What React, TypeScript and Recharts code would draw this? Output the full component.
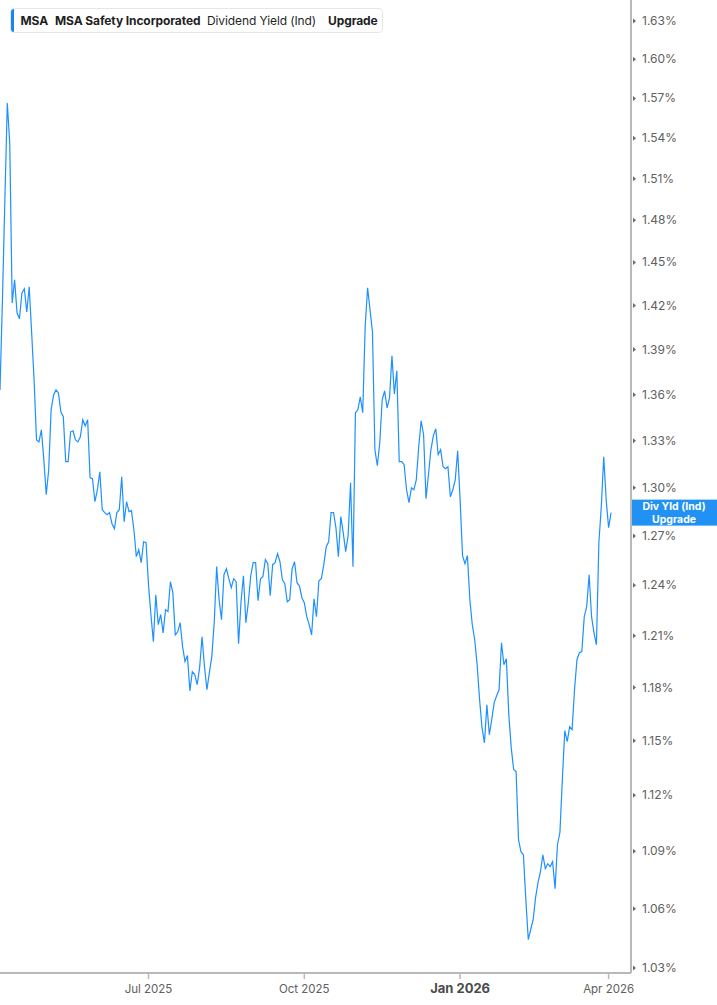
import React from 'react';
import { LineChart, Line, XAxis, YAxis, ReferenceLine } from 'recharts';

// Dividend yield (%) per trading day, Apr 2025 - Apr 2026
const yieldValues: number[] = [
  1.3631, 1.4239, 1.4946, 1.5665, 1.5365, 1.4218, 1.4378, 1.415, 1.4109, 1.4288,
  1.4316, 1.4156, 1.433, 1.4014, 1.3698, 1.3305, 1.3292, 1.337, 1.3178, 1.2956,
  1.3114, 1.35, 1.3598, 1.3631, 1.3611, 1.3487, 1.3455, 1.3165, 1.3165, 1.3357,
  1.3364, 1.3305, 1.3292, 1.3325, 1.3435, 1.3396, 1.3435, 1.3063, 1.3057, 1.2912,
  1.2987, 1.3101, 1.2862, 1.2844, 1.2831, 1.2844, 1.2775, 1.2744, 1.2844, 1.2862,
  1.3069, 1.2788, 1.2912, 1.285, 1.2856, 1.2738, 1.2573, 1.2615, 1.2536, 1.2664,
  1.2658, 1.2402, 1.2224, 1.2065, 1.2343, 1.2165, 1.2224, 1.2117, 1.2254, 1.2242,
  1.2421, 1.2355, 1.2105, 1.2123, 1.2177, 1.2036, 1.1949, 1.1984, 1.1781, 1.1891,
  1.1874, 1.1816, 1.1914, 1.2094, 1.192, 1.1787, 1.1885, 1.1978, 1.2177, 1.2512,
  1.2313, 1.2194, 1.2463, 1.25, 1.2439, 1.2385, 1.2439, 1.2421, 1.2053, 1.2301,
  1.2457, 1.2177, 1.2295, 1.2457, 1.2536, 1.2536, 1.2307, 1.2439, 1.2451, 1.2555,
  1.253, 1.2337, 1.2524, 1.2536, 1.2591, 1.2542, 1.2433, 1.2409, 1.2301, 1.2313,
  1.25, 1.2542, 1.2415, 1.2396, 1.2325, 1.2295, 1.2212, 1.2165, 1.2105, 1.2319,
  1.2212, 1.2427, 1.2439, 1.2524, 1.2634, 1.2664, 1.2844, 1.2844, 1.275, 1.2573,
  1.2819, 1.2719, 1.2603, 1.2701, 1.3031, 1.2512, 1.3481, 1.35, 1.3585, 1.3481,
  1.4054, 1.4323, 1.417, 1.402, 1.3241, 1.3139, 1.3286, 1.3566, 1.3625, 1.3513,
  1.3579, 1.3858, 1.3605, 1.3758, 1.3165, 1.3165, 1.3146, 1.2987, 1.2906, 1.2999,
  1.2987, 1.305, 1.3261, 1.3429, 1.3338, 1.2931, 1.3082, 1.3241, 1.3331, 1.3377,
  1.321, 1.3241, 1.3133, 1.312, 1.3133, 1.2943, 1.2987, 1.305, 1.3235, 1.2925,
  1.2579, 1.253, 1.2579, 1.2313, 1.2165, 1.2076, 1.1931, 1.1731, 1.1573, 1.1488,
  1.1702, 1.1533, 1.1618, 1.1714, 1.1753, 1.1787, 1.2059, 1.1931, 1.1966, 1.1646,
  1.1461, 1.134, 1.1329, 1.0961, 1.0897, 1.0881, 1.0647, 1.0443, 1.0494, 1.0544,
  1.0657, 1.0735, 1.0793, 1.0881, 1.0808, 1.0834, 1.0819, 1.0845, 1.0704, 1.0934,
  1.0999, 1.1285, 1.1556, 1.1494, 1.1578, 1.1561, 1.1787, 1.196, 1.2001, 1.2007,
  1.2212, 1.2272, 1.2463, 1.2212, 1.2117, 1.2047, 1.2658, 1.2881, 1.3197, 1.2925,
  1.275, 1.2844,
];

// x tick positions (trading-day index) and their labels
const xTickIndex: number[] = [61, 125, 189, 250];
const xTickLabels: string[] = ['Jul 2025', 'Oct 2025', 'Jan 2026', 'Apr 2026'];
const xBoldLabel = 'Jan 2026';

const yTicks: number[] = [
  1.03, 1.06, 1.09, 1.12, 1.15, 1.18, 1.21, 1.24, 1.27, 1.3, 1.33, 1.36, 1.39,
  1.42, 1.45, 1.48, 1.51, 1.54, 1.57, 1.6, 1.63,
];
const yDomain: [number, number] = [1.0275, 1.6467];
const xDomain: [number, number] = [0, 259.2];

const legendParts = {
  ticker: 'MSA',
  name: 'MSA Safety Incorporated',
  metric: 'Dividend Yield (Ind)',
  action: 'Upgrade',
};
const badgeLines: string[] = ['Div Yld (Ind)', 'Upgrade'];

const data = yieldValues.map((v, i) => ({ i, v }));
const lastValue = yieldValues[yieldValues.length - 1];

const FONT = 'Inter, "Noto Sans", Roboto, sans-serif';
const BLUE = '#1e90ff';
const AXIS = '#b9b9b9';
const TICK_TEXT = '#606060';

const XTick = (props: any) => {
  const { x, y, payload } = props;
  const idx = xTickIndex.indexOf(payload.value);
  const label = idx >= 0 ? xTickLabels[idx] : '';
  const bold = label === xBoldLabel;
  return (
    <text
      x={x}
      y={y + 12}
      textAnchor="middle"
      fontFamily={FONT}
      fontSize={bold ? 13 : 11.5}
      fontWeight={bold ? 700 : 400}
      fill={bold ? '#4a4a4a' : TICK_TEXT}
    >
      {label}
    </text>
  );
};

const YTick = (props: any) => {
  const { x, y, payload } = props;
  return (
    <g>
      <path d={`M${x + 2},${y - 2.5} L${x + 5},${y} L${x + 2},${y + 2.5} Z`} fill="#6a6a6a" />
      <text
        x={x + 11}
        y={y}
        dy={4}
        textAnchor="start"
        fontFamily={FONT}
        fontSize={12}
        fill={TICK_TEXT}
      >
        {payload.value.toFixed(2)}%
      </text>
    </g>
  );
};

const Badge = (props: any) => {
  const vb = props.viewBox || {};
  const left = (vb.x || 0) + (vb.width || 0);
  const cy = vb.y || 0;
  return (
    <g>
      <rect x={left} y={cy - 13} width={86} height={26} fill="#2191f3" />
      <text
        x={left + 43}
        y={cy - 6.5}
        dy={3.8}
        textAnchor="middle"
        fontFamily={FONT}
        fontSize={10.5}
        fontWeight={700}
        fill="#ffffff"
      >
        {badgeLines[0]}
      </text>
      <text
        x={left + 43}
        y={cy + 6.5}
        dy={3.8}
        textAnchor="middle"
        fontFamily={FONT}
        fontSize={10.5}
        fontWeight={700}
        fill="#ffffff"
      >
        {badgeLines[1]}
      </text>
    </g>
  );
};

const legendText: React.CSSProperties = {
  position: 'absolute',
  top: -1,
  lineHeight: '25px',
  fontSize: 12,
  letterSpacing: '-0.1px',
  fontFamily: FONT,
  color: '#1f1f1f',
  whiteSpace: 'nowrap',
};

export default function App() {
  return (
    <div style={{ position: 'relative', width: 717, height: 1005, background: '#fff', overflow: 'hidden' }}>
      <style>{'body{margin:0;}'}</style>
      <LineChart
        width={717}
        height={1005}
        data={data}
        margin={{ top: 0, right: 0, bottom: 0, left: 0 }}
      >
        <XAxis
          dataKey="i"
          type="number"
          domain={xDomain}
          allowDataOverflow
          ticks={xTickIndex}
          interval={0}
          height={32}
          tickSize={6}
          tickMargin={2}
          axisLine={{ stroke: AXIS, strokeWidth: 2 }}
          tickLine={{ stroke: AXIS, strokeWidth: 1.5 }}
          tick={<XTick />}
        />
        <YAxis
          orientation="right"
          type="number"
          scale="log"
          domain={yDomain}
          allowDataOverflow
          ticks={yTicks}
          interval={0}
          width={86}
          tickSize={0}
          tickMargin={0}
          tickLine={false}
          axisLine={{ stroke: AXIS, strokeWidth: 2 }}
          tick={<YTick />}
        />
        <ReferenceLine y={lastValue} stroke="none" label={<Badge />} />
        <Line
          type="linear"
          dataKey="v"
          stroke={BLUE}
          strokeWidth={1.2}
          dot={false}
          activeDot={false}
          isAnimationActive={false}
        />
      </LineChart>
      <div
        style={{
          position: 'absolute',
          left: 10,
          top: 8,
          width: 373,
          height: 25,
          border: '1px solid #e6e6e6',
          borderRadius: 4,
          background: '#fff',
          boxSizing: 'border-box',
          overflow: 'hidden',
        }}
      >
        <div style={{ position: 'absolute', left: -1, top: -1, width: 3.5, height: 25, background: '#1a86f0', borderRadius: '3px 0 0 3px' }} />
        <span style={{ ...legendText, left: 9.5, fontWeight: 700 }}>{legendParts.ticker}</span>
        <span style={{ ...legendText, left: 44, fontWeight: 700 }}>{legendParts.name}</span>
        <span style={{ ...legendText, left: 196, fontWeight: 400 }}>{legendParts.metric}</span>
        <span style={{ ...legendText, left: 317, fontWeight: 700 }}>{legendParts.action}</span>
      </div>
    </div>
  );
}
